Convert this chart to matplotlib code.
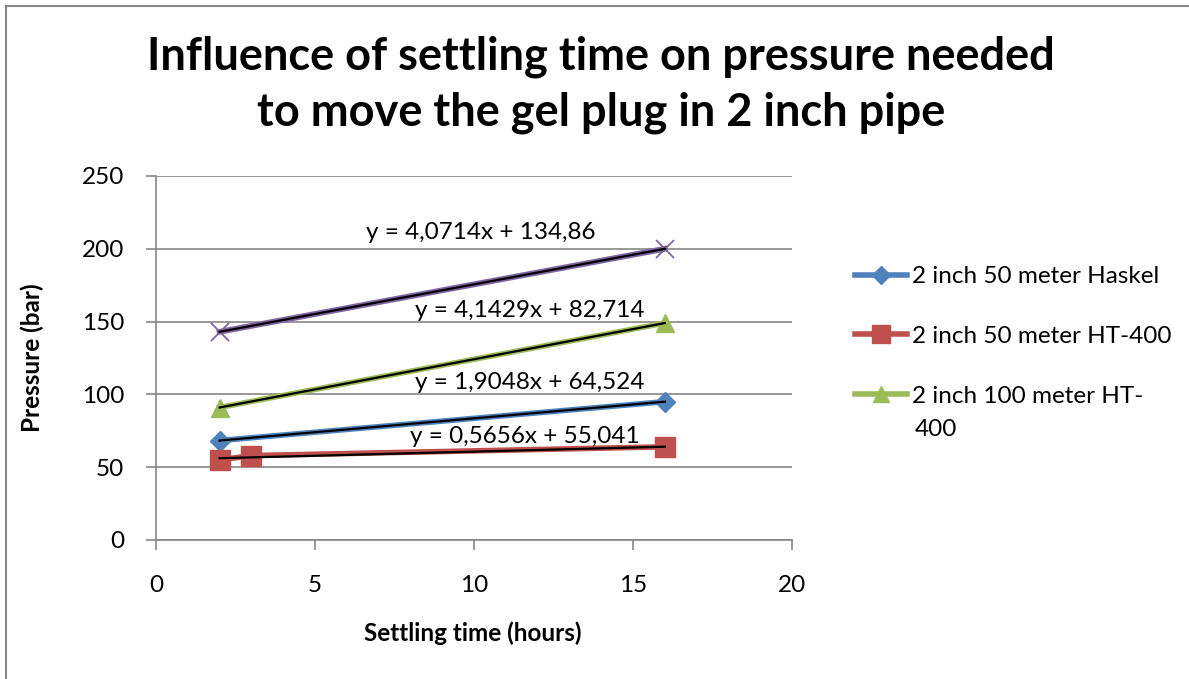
import numpy as np
import matplotlib
matplotlib.use("Agg")
import matplotlib.pyplot as plt

plt.rcParams['font.family'] = ['Lato', 'DejaVu Sans']

title_lines = ["Influence of settling time on pressure needed", "to move the gel plug in 2 inch pipe"]
x_label = "Settling time (hours)"
y_label = "Pressure (bar)"

haskel_x = [2, 16]
haskel_y = [68.3, 95.0]
ht50_x = [2, 3, 16]
ht50_y = [55, 58, 64]
ht100_x = [2, 16]
ht100_y = [91, 149]
extra_x = [2, 16]
extra_y = [143, 200]

labels = ["2 inch 50 meter Haskel", "2 inch 50 meter HT-400", "2 inch 100 meter HT-\n400"]
eq_texts = ["y = 1,9048x + 64,524", "y = 0,5656x + 55,041", "y = 4,1429x + 82,714", "y = 4,0714x + 134,86"]
eq_pos = [(11.75, 108), (11.6, 71), (11.75, 157.5), (10.2, 211.5)]

W, H = 1189, 679
fig = plt.figure(figsize=(W / 100, H / 100), dpi=100)
ax = fig.add_axes([156 / W, 1 - 540 / H, (792 - 156) / W, (540 - 176) / H])

# outer chart border
fig.add_artist(plt.Line2D([5.5 / W, 5.5 / W], [0, 1 - 5.5 / H], transform=fig.transFigure, color='#888888', lw=1.5))
fig.add_artist(plt.Line2D([5.5 / W, 1], [1 - 5.5 / H, 1 - 5.5 / H], transform=fig.transFigure, color='#888888', lw=1.5))

series = [
    (haskel_x, haskel_y, '#4F81BD', 'D', 10),
    (ht50_x, ht50_y, '#C0504D', 's', 14),
    (ht100_x, ht100_y, '#9BBB59', '^', 13),
    (extra_x, extra_y, '#8064A2', 'x', 13),
]
handles = []
for i, (xs, ys, c, m, ms) in enumerate(series):
    if m == 'x':
        h, = ax.plot(xs, ys, color=c, lw=4.2, marker=m, ms=ms, mew=1.3, zorder=3)
    else:
        h, = ax.plot(xs, ys, color=c, lw=4, marker=m, ms=ms, mec=c, zorder=3)
    handles.append(h)
    k, b = np.polyfit(xs, ys, 1)
    xx = np.array([min(xs), max(xs)])
    ax.plot(xx, k * xx + b, color='black', lw=1.6, zorder=4)
    ax.text(eq_pos[i][0], eq_pos[i][1], eq_texts[i], ha='center', va='center', fontsize=17.5, zorder=5)

ax.set_xlim(0, 20)
ax.set_ylim(0, 250)
ax.set_xticks([0, 5, 10, 15, 20])
ax.set_yticks([0, 50, 100, 150, 200, 250])
ax.yaxis.grid(True, color='#868686', lw=1.2)
ax.set_axisbelow(True)
for s in ['top', 'right']:
    ax.spines[s].set_visible(False)
for s in ['left', 'bottom']:
    ax.spines[s].set_color('#868686')
    ax.spines[s].set_linewidth(1.2)
ax.tick_params(axis='both', direction='out', length=7, width=1.2, color='#868686', labelsize=17.5)
ax.tick_params(axis='y', pad=16)
ax.tick_params(axis='x', pad=18)

fig.text(473 / W, 1 - 633 / H, x_label, ha='center', va='center', fontsize=17.5, fontweight='bold')
fig.text(32 / W, 1 - 358 / H, y_label, ha='center', va='center', fontsize=17.5, fontweight='bold', rotation=90)

fig.text(601 / W, 1 - 57 / H, title_lines[0], ha='center', va='center', fontsize=32.5, fontweight='bold')
fig.text(601 / W, 1 - 113 / H, title_lines[1], ha='center', va='center', fontsize=32.5, fontweight='bold')

# legend: one entry per row, the wrapped tail of a label drawn on its own line
first_lines = [lab.split("\n")[0] for lab in labels]
leg = fig.legend(handles[:3], first_lines, loc='upper left', bbox_to_anchor=(855 / W, 1 - 266 / H), frameon=False,
                 fontsize=17.5, handlelength=2.15, handletextpad=0.2, labelspacing=1.6, markerscale=0.9,
                 borderaxespad=0, borderpad=0)
for lab in labels:
    if "\n" in lab:
        tail = lab.split("\n", 1)[1]
        fig.text(915 / W, 1 - 429 / H, tail, ha='left', va='center', fontsize=17.5)

fig.savefig("out.png", dpi=100, facecolor='white')
